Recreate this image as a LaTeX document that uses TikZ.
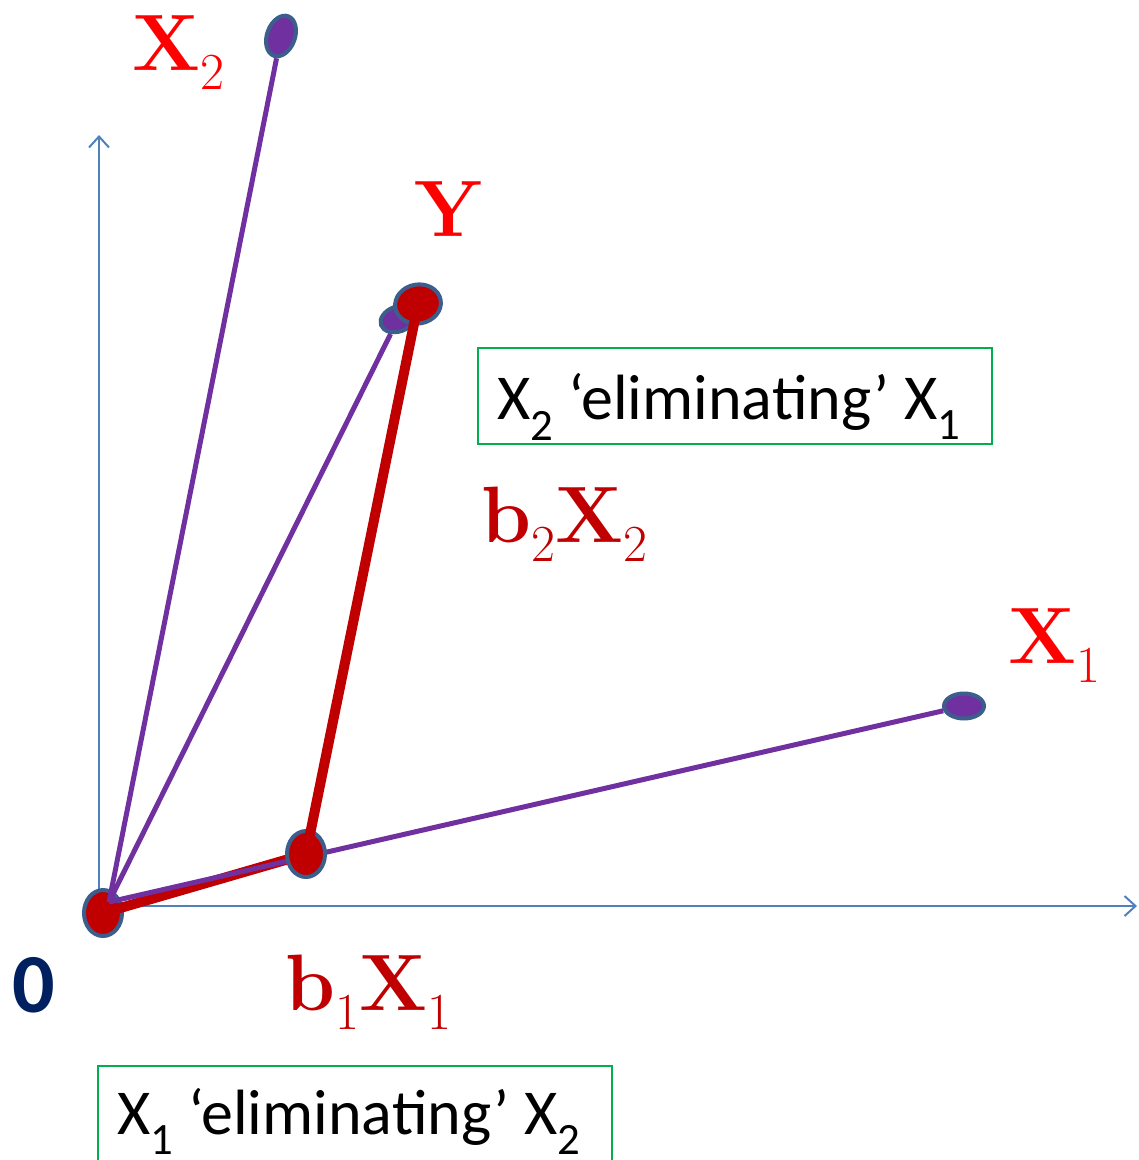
\documentclass[tikz,border=0pt]{standalone}
\usepackage{fontspec}
\newfontfamily\calib{Carlito}
\usetikzlibrary{shapes.geometric,arrows.meta}
\definecolor{vpurple}{HTML}{7030A0}
\definecolor{dred}{HTML}{C00000}
\definecolor{edgeblue}{HTML}{3B5E8C}
\definecolor{axisblue}{HTML}{4F81BD}
\definecolor{boxgreen}{HTML}{00B050}
\definecolor{navy}{HTML}{002060}
\newcommand\lsub[1]{\raisebox{-19pt}{\fontsize{52}{60}\selectfont\mdseries #1}}
\newcommand\bX{{\bfseries X}}
\newcommand\bb{{\bfseries b}}
\begin{document}
\begin{tikzpicture}[x=1pt,y=-1pt,
  axis/.style={draw=axisblue,line width=2pt,-{Straight Barb[length=11pt,width=20pt,line width=2pt]}},
  vec/.style={draw=vpurple,line width=5pt},
  redvec/.style={draw=dred,line width=10pt,line cap=round,line join=round},
  dot/.style={ellipse,draw=edgeblue,line width=4pt,inner sep=0pt},
  lab/.style={inner sep=0pt,anchor=base west,font=\fontsize{80}{90}\selectfont},
  tbox/.style={draw=boxgreen,line width=1.5pt,font=\calib\fontsize{64}{70}\selectfont},
]
\useasboundingbox (0,0) rectangle (1139,1160);
% axes
\coordinate (ax0) at (99,906);
\coordinate (axy) at (99,135);
\coordinate (axx) at (1137,906);
\draw[axis] (ax0) -- (axy);
\draw[axis] (ax0) -- (axx);
% points
\node[dot,fill=dred,minimum width=38pt,minimum height=46pt] (o) at (103,913) {};
\coordinate (p0) at (109,902);
\node[dot,fill=vpurple,minimum width=28pt,minimum height=42pt,rotate=-20] (x2) at (281,36) {};
\node[dot,fill=vpurple,minimum width=40pt,minimum height=25pt] (x1) at (964,706) {};
\node[dot,fill=vpurple,minimum width=36pt,minimum height=25pt,rotate=20] (yp) at (398,319) {};
% red path, first part
\draw[redvec] (o.center) -- (306,854) coordinate (b1c);
% purple vectors
\draw[vec] (p0) -- (x2);
\draw[vec] (p0) -- (x1);
\draw[vec] (p0) -- (yp);
% b1 point
\node[dot,fill=dred,minimum width=38pt,minimum height=46pt] (b1) at (b1c) {};
\node[dot,fill=dred,minimum width=46pt,minimum height=39pt,rotate=10] (y) at (418,304) {};
\draw[redvec] (b1.center) -- (y.center);
% labels
\node[lab,text=red] (lx2) at (132,70) {\bX\lsub{2}};
\node[lab,text=red] (ly) at (414,236) {\bfseries Y};
\node[lab,text=dred] (lb2) at (481,542) {\bb\lsub{2}\bX\lsub{2}};
\node[lab,text=red] (lx1) at (1008,663) {\bX\lsub{1}};
\node[lab,text=dred] (lb1) at (285,1010) {\bb\lsub{1}\bX\lsub{1}};
\node[inner sep=0pt,anchor=base west,text=navy,font=\calib\bfseries\fontsize{84}{90}\selectfont] (lo) at (12,1012) {0};
% boxes
\node[tbox,anchor=north west,minimum width=514pt,minimum height=96pt,inner xsep=0pt,inner ysep=0pt] (box1) at (477,347) {};
\node[inner sep=0pt,anchor=base west,font=\calib\fontsize{64}{70}\selectfont] (t1) at ([xshift=20pt,yshift=25pt]box1.south west) {X\textsubscript{2} ‘eliminating’ X\textsubscript{1}};
\draw[boxgreen,line width=1.5pt] (98,1175) -- (98,1066) -- (612,1066) -- (612,1175);
\node[inner sep=0pt,anchor=base west,font=\calib\fontsize{64}{70}\selectfont] (t2) at (117,1134) {X\textsubscript{1} ‘eliminating’ X\textsubscript{2}};
\end{tikzpicture}
\end{document}
